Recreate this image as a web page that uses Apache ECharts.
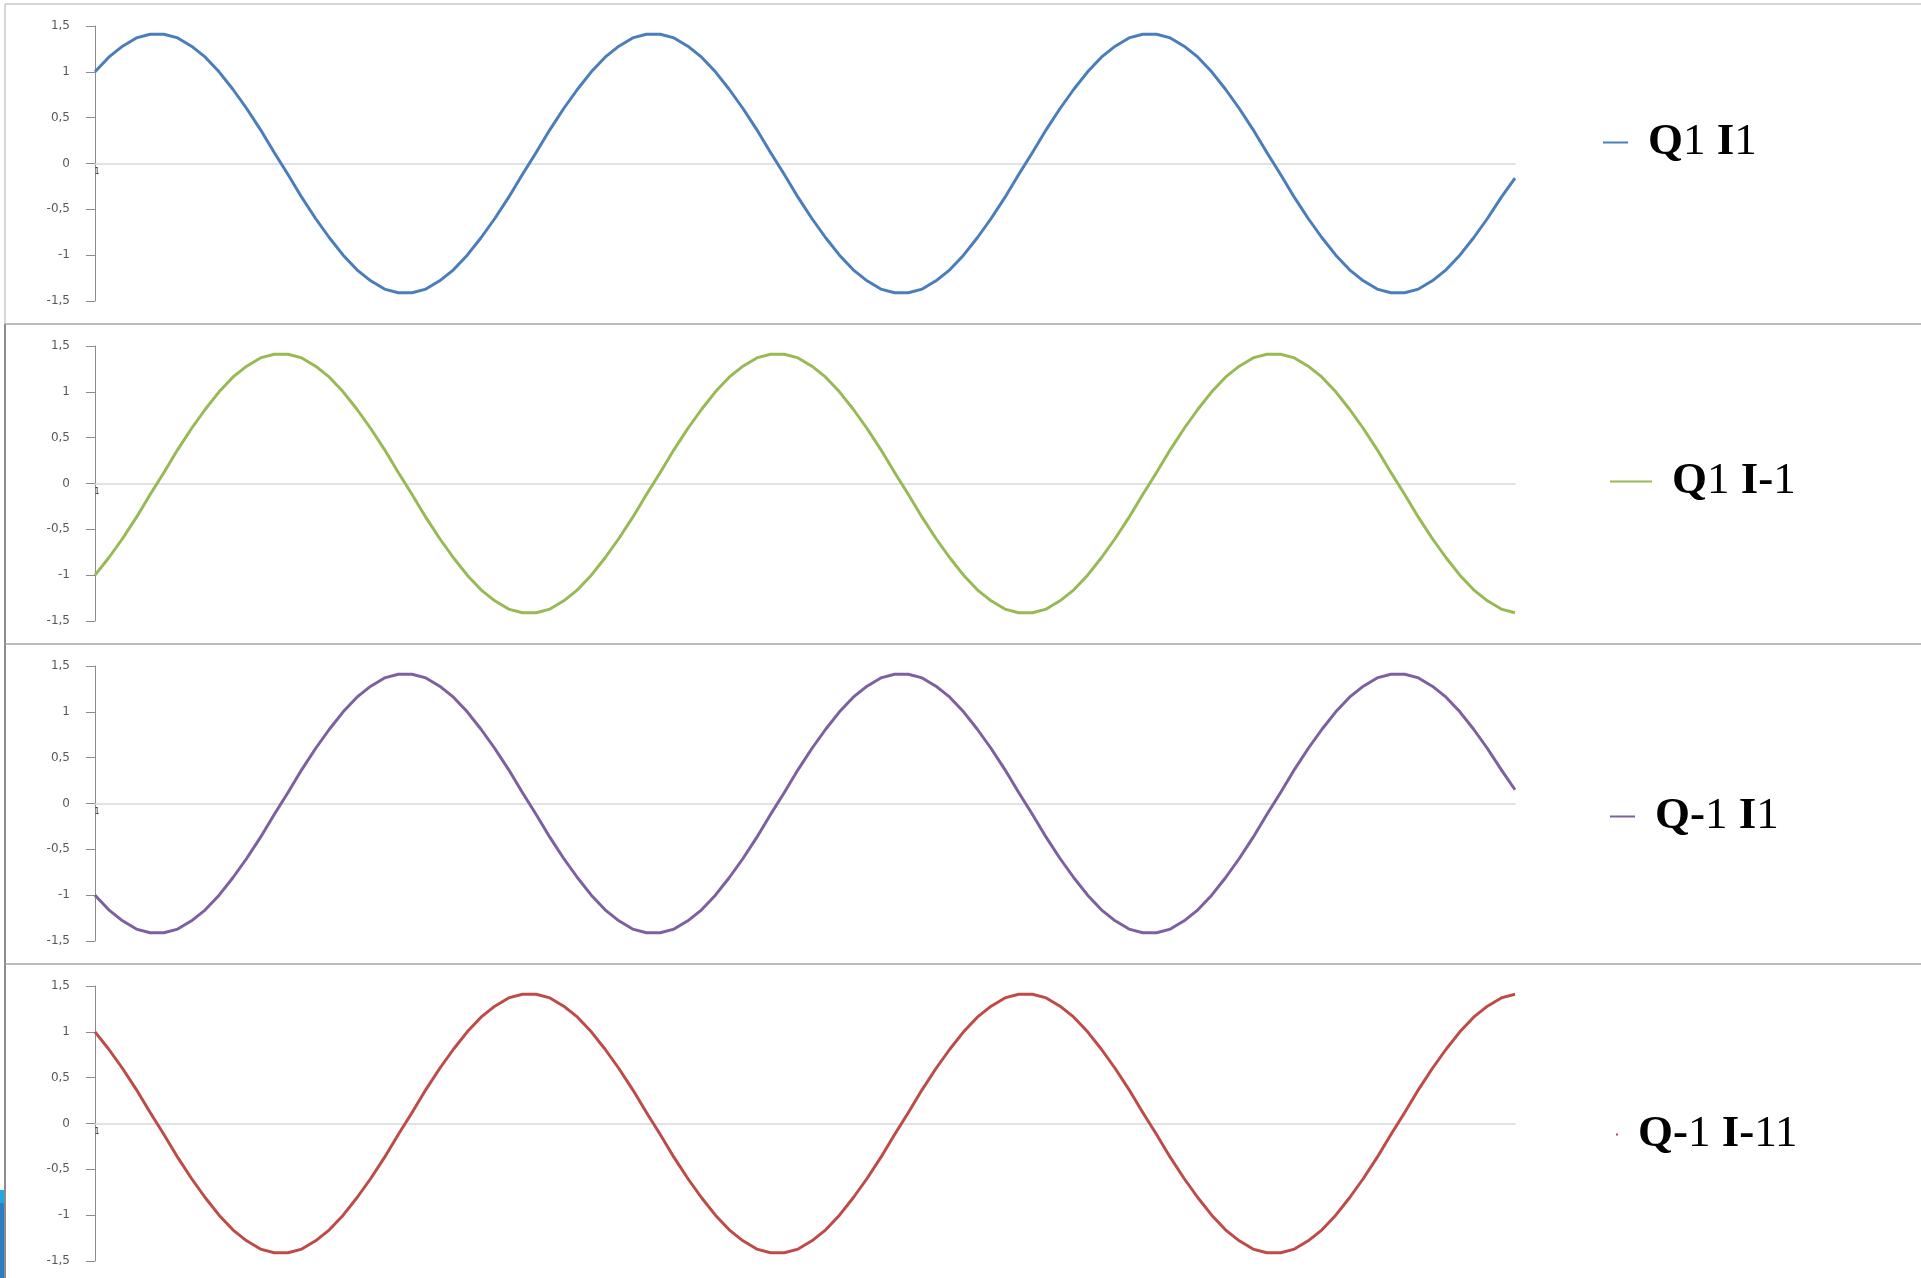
<!DOCTYPE html>
<html>
<head>
<meta charset="utf-8">
<script src="https://cdn.jsdelivr.net/npm/echarts@6/dist/echarts.min.js"></script>
<style>
html, body { margin: 0; padding: 0; background: #ffffff; }
#chart { width: 1921px; height: 1278px; }
</style>
</head>
<body>
<div id="chart"></div>
<script>
// Series values (one sample every ~10 degrees of phase)
const seriesNames = ['Q1 I1', 'Q1 I-1', 'Q-1 I1', 'Q-1 I-11'];

const q1i1 = [
  1, 1.16, 1.28, 1.37, 1.41, 1.41, 1.37, 1.28, 1.16, 1, 0.81, 0.6, 0.37, 0.12, -0.12, -0.37, -0.6, -0.81,
  -1, -1.16, -1.28, -1.37, -1.41, -1.41, -1.37, -1.28, -1.16, -1, -0.81, -0.6, -0.37, -0.12, 0.12, 0.37, 0.6, 0.81,
  1, 1.16, 1.28, 1.37, 1.41, 1.41, 1.37, 1.28, 1.16, 1, 0.81, 0.6, 0.37, 0.12, -0.12, -0.37, -0.6, -0.81,
  -1, -1.16, -1.28, -1.37, -1.41, -1.41, -1.37, -1.28, -1.16, -1, -0.81, -0.6, -0.37, -0.12, 0.12, 0.37, 0.6, 0.81,
  1, 1.16, 1.28, 1.37, 1.41, 1.41, 1.37, 1.28, 1.16, 1, 0.81, 0.6, 0.37, 0.12, -0.12, -0.37, -0.6, -0.81,
  -1, -1.16, -1.28, -1.37, -1.41, -1.41, -1.37, -1.28, -1.16, -1, -0.81, -0.6, -0.37, -0.16
];

const q1im1 = [
  -1, -0.81, -0.6, -0.37, -0.12, 0.12, 0.37, 0.6, 0.81, 1, 1.16, 1.28, 1.37, 1.41, 1.41, 1.37, 1.28, 1.16,
  1, 0.81, 0.6, 0.37, 0.12, -0.12, -0.37, -0.6, -0.81, -1, -1.16, -1.28, -1.37, -1.41, -1.41, -1.37, -1.28, -1.16,
  -1, -0.81, -0.6, -0.37, -0.12, 0.12, 0.37, 0.6, 0.81, 1, 1.16, 1.28, 1.37, 1.41, 1.41, 1.37, 1.28, 1.16,
  1, 0.81, 0.6, 0.37, 0.12, -0.12, -0.37, -0.6, -0.81, -1, -1.16, -1.28, -1.37, -1.41, -1.41, -1.37, -1.28, -1.16,
  -1, -0.81, -0.6, -0.37, -0.12, 0.12, 0.37, 0.6, 0.81, 1, 1.16, 1.28, 1.37, 1.41, 1.41, 1.37, 1.28, 1.16,
  1, 0.81, 0.6, 0.37, 0.12, -0.12, -0.37, -0.6, -0.81, -1, -1.16, -1.28, -1.37, -1.41
];

const qm1i1 = [
  -1, -1.16, -1.28, -1.37, -1.41, -1.41, -1.37, -1.28, -1.16, -1, -0.81, -0.6, -0.37, -0.12, 0.12, 0.37, 0.6, 0.81,
  1, 1.16, 1.28, 1.37, 1.41, 1.41, 1.37, 1.28, 1.16, 1, 0.81, 0.6, 0.37, 0.12, -0.12, -0.37, -0.6, -0.81,
  -1, -1.16, -1.28, -1.37, -1.41, -1.41, -1.37, -1.28, -1.16, -1, -0.81, -0.6, -0.37, -0.12, 0.12, 0.37, 0.6, 0.81,
  1, 1.16, 1.28, 1.37, 1.41, 1.41, 1.37, 1.28, 1.16, 1, 0.81, 0.6, 0.37, 0.12, -0.12, -0.37, -0.6, -0.81,
  -1, -1.16, -1.28, -1.37, -1.41, -1.41, -1.37, -1.28, -1.16, -1, -0.81, -0.6, -0.37, -0.12, 0.12, 0.37, 0.6, 0.81,
  1, 1.16, 1.28, 1.37, 1.41, 1.41, 1.37, 1.28, 1.16, 1, 0.81, 0.6, 0.37, 0.15
];

const qm1im1 = [
  1, 0.81, 0.6, 0.37, 0.12, -0.12, -0.37, -0.6, -0.81, -1, -1.16, -1.28, -1.37, -1.41, -1.41, -1.37, -1.28, -1.16,
  -1, -0.81, -0.6, -0.37, -0.12, 0.12, 0.37, 0.6, 0.81, 1, 1.16, 1.28, 1.37, 1.41, 1.41, 1.37, 1.28, 1.16,
  1, 0.81, 0.6, 0.37, 0.12, -0.12, -0.37, -0.6, -0.81, -1, -1.16, -1.28, -1.37, -1.41, -1.41, -1.37, -1.28, -1.16,
  -1, -0.81, -0.6, -0.37, -0.12, 0.12, 0.37, 0.6, 0.81, 1, 1.16, 1.28, 1.37, 1.41, 1.41, 1.37, 1.28, 1.16,
  1, 0.81, 0.6, 0.37, 0.12, -0.12, -0.37, -0.6, -0.81, -1, -1.16, -1.28, -1.37, -1.41, -1.41, -1.37, -1.28, -1.16,
  -1, -0.81, -0.6, -0.37, -0.12, 0.12, 0.37, 0.6, 0.81, 1, 1.16, 1.28, 1.37, 1.41
];

const seriesData = [q1i1, q1im1, qm1i1, qm1im1];
// category labels 1..N (only the first is shown, as in the picture)
const categories = q1i1.map((_, i) => String(i + 1));

// y tick values (axis from -1.5 to 1.5 step 0.5)
const yMin = -1.5, yMax = 1.5, yStep = 0.5;

// legend text with mixed weights, as in the picture
const legendRichText = {
  'Q1 I1': '{sp|}{b|Q}{r|1 }{b|I}{r|1}',
  'Q1 I-1': '{sp|}{b|Q}{r|1 }{b|I-}{r|1}',
  'Q-1 I1': '{sp|}{b|Q-}{r|1 }{b|I}{r|1}',
  'Q-1 I-11': '{sp|}{b|Q-}{r|1 }{b|I-}{r|11}'
};

const colors = ['#4a7ebb', '#98b954', '#7d60a0', '#be4b48'];
const serifFont = "'Liberation Serif', 'Times New Roman', serif";

// layout
const panelOffset = 320;
const gridTop0 = 26;
const gridHeight = 275;
const gridLeft = 95;
const gridWidth = 1420;
const legendLeft = [1598, 1605, 1605, 1611];
const legendTop = [115, 454, 789, 1107];
const legendIconW = [25, 42, 25, 2];

const chart = echarts.init(document.getElementById('chart'), null, { renderer: 'canvas' });

const grids = [], xAxes = [], yAxes = [], series = [], legends = [];
for (let i = 0; i < 4; i++) {
  grids.push({ left: gridLeft, width: gridWidth, top: gridTop0 + panelOffset * i, height: gridHeight, containLabel: false });
  xAxes.push({
    type: 'category', gridIndex: i, data: categories, boundaryGap: false,
    axisLine: { onZero: true, lineStyle: { color: '#d9d9d9', width: 1.5 } },
    axisTick: { show: false },
    axisLabel: {
      interval: (idx) => idx === 0, fontSize: 8, color: '#333', margin: -133,
      fontFamily: 'DejaVu Sans', padding: [0, 0, 0, 4]
    },
    splitLine: { show: false }
  });
  yAxes.push({
    type: 'value', gridIndex: i, min: yMin, max: yMax, interval: yStep,
    axisLine: { show: true, lineStyle: { color: '#8c8c8c', width: 1 } },
    axisTick: { show: true, length: 9, lineStyle: { color: '#8c8c8c' } },
    axisLabel: {
      margin: 25, fontSize: 12, color: '#595959', fontFamily: 'DejaVu Sans',
      formatter: (v) => String(v).replace('.', ',')
    },
    splitLine: { show: false }
  });
  series.push({
    name: seriesNames[i], type: 'line', xAxisIndex: i, yAxisIndex: i,
    data: seriesData[i], symbol: 'none', smooth: false,
    lineStyle: { color: colors[i], width: 3, join: 'round' },
    itemStyle: { color: colors[i] }
  });
  legends.push({
    data: [seriesNames[i]], left: legendLeft[i], top: legendTop[i],
    icon: 'rect', itemWidth: legendIconW[i], itemHeight: 2, selectedMode: false,
    formatter: (name) => legendRichText[name],
    textStyle: {
      color: '#000', fontFamily: serifFont, fontSize: 45,
      rich: {
        sp: { width: 15, lineHeight: 50 },
        b: { fontFamily: serifFont, fontSize: 45, fontWeight: 'bold', color: '#000', lineHeight: 50 },
        r: { fontFamily: serifFont, fontSize: 45, fontWeight: 'normal', color: '#000', lineHeight: 50 }
      }
    }
  });
}

const borderGraphics = [
  { type: 'line', shape: { x1: 5, y1: 4, x2: 1921, y2: 4 }, style: { stroke: '#c8c8c8', lineWidth: 1.5 }, silent: true },
  { type: 'line', shape: { x1: 5, y1: 4, x2: 5, y2: 324 }, style: { stroke: '#c8c8c8', lineWidth: 1.5 }, silent: true },
  { type: 'line', shape: { x1: 5, y1: 324, x2: 5, y2: 1278 }, style: { stroke: '#8c8c8c', lineWidth: 2 }, silent: true },
  { type: 'line', shape: { x1: 5, y1: 324, x2: 1921, y2: 324 }, style: { stroke: '#a6a6a6', lineWidth: 1.5 }, silent: true },
  { type: 'line', shape: { x1: 5, y1: 644, x2: 1921, y2: 644 }, style: { stroke: '#a6a6a6', lineWidth: 1.5 }, silent: true },
  { type: 'line', shape: { x1: 5, y1: 964, x2: 1921, y2: 964 }, style: { stroke: '#a6a6a6', lineWidth: 1.5 }, silent: true },
  { type: 'rect', shape: { x: 0, y: 1190, width: 4, height: 13 }, style: { fill: '#22a8e0' }, silent: true },
  { type: 'rect', shape: { x: 0, y: 1203, width: 4, height: 75 }, style: { fill: '#2c7dc2' }, silent: true }
];

chart.setOption({
  animation: false,
  backgroundColor: '#ffffff',
  grid: grids,
  xAxis: xAxes,
  yAxis: yAxes,
  legend: legends,
  series: series,
  graphic: borderGraphics
});
</script>
</body>
</html>
